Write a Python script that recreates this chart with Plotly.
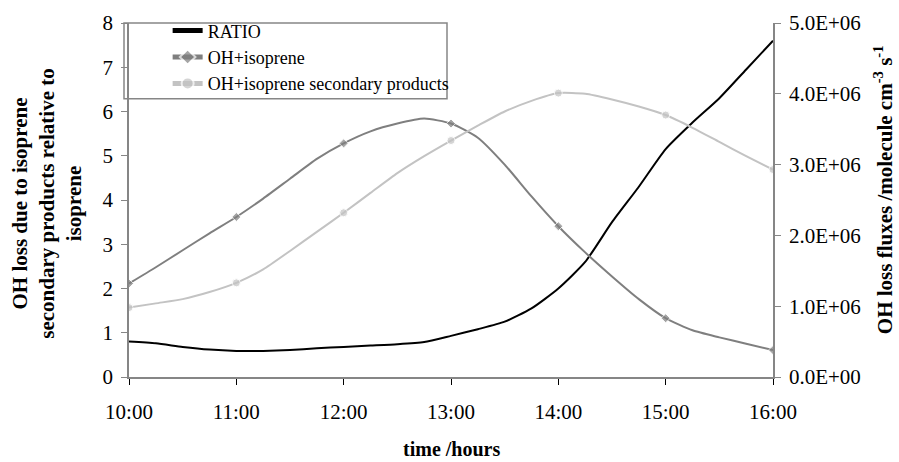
import plotly.graph_objects as go

# ---- data ----
times = ["10:00", "10:15", "10:30", "10:45", "11:00", "11:15", "11:30", "11:45",
         "12:00", "12:15", "12:30", "12:45", "13:00", "13:15", "13:30", "13:45",
         "14:00", "14:15", "14:30", "14:45", "15:00", "15:15", "15:30", "15:45", "16:00"]

ratio = [0.80, 0.76, 0.68, 0.62, 0.59, 0.59, 0.61, 0.65, 0.68, 0.71, 0.74, 0.79,
         0.93, 1.08, 1.25, 1.55, 2.00, 2.60, 3.50, 4.30, 5.15, 5.75, 6.30, 6.95, 7.60]

oh_isoprene = [1.32e6, 1.55e6, 1.79e6, 2.03e6, 2.26e6, 2.52e6, 2.80e6, 3.08e6,
               3.30e6, 3.47e6, 3.58e6, 3.65e6, 3.58e6, 3.38e6, 3.00e6, 2.55e6,
               2.13e6, 1.76e6, 1.42e6, 1.10e6, 0.83e6, 0.66e6, 0.56e6, 0.47e6, 0.38e6]

oh_secondary = [0.98e6, 1.04e6, 1.10e6, 1.20e6, 1.33e6, 1.52e6, 1.78e6, 2.05e6,
                2.32e6, 2.60e6, 2.88e6, 3.12e6, 3.34e6, 3.55e6, 3.75e6, 3.90e6,
                4.01e6, 4.00e6, 3.92e6, 3.82e6, 3.70e6, 3.52e6, 3.32e6, 3.12e6, 2.93e6]

x_tick_labels = ["10:00", "11:00", "12:00", "13:00", "14:00", "15:00", "16:00"]
left_ticks = [0, 1, 2, 3, 4, 5, 6, 7, 8]
right_ticks = [0, 1e6, 2e6, 3e6, 4e6, 5e6]
right_tick_labels = ["0.0E+00", "1.0E+06", "2.0E+06", "3.0E+06", "4.0E+06", "5.0E+06"]


def to_hours(t):
    h, m = t.split(":")
    return int(h) + int(m) / 60.0


xh = [to_hours(t) for t in times]
x_tick_vals = [to_hours(t) for t in x_tick_labels]
is_hour = [t.endswith(":00") for t in times]

FONT = "Liberation Serif"
AXC = "#868686"

fig = go.Figure()
fig.add_trace(go.Scatter(
    x=xh, y=ratio, name="RATIO", mode="lines",
    line=dict(color="#000000", width=2, shape="spline", smoothing=0.6),
    yaxis="y"))
fig.add_trace(go.Scatter(
    x=xh, y=oh_isoprene, name="OH+isoprene", mode="lines+markers",
    line=dict(color="#7f7f7f", width=2, shape="spline", smoothing=0.6),
    marker=dict(symbol="diamond", color="#7f7f7f",
                size=[7 if h else 0 for h in is_hour]),
    yaxis="y2"))
fig.add_trace(go.Scatter(
    x=xh, y=oh_secondary, name="OH+isoprene secondary products", mode="lines+markers",
    line=dict(color="#c3c3c3", width=2, shape="spline", smoothing=0.6),
    marker=dict(symbol="circle", color="#c3c3c3",
                size=[8 if h else 0 for h in is_hour]),
    yaxis="y2"))

tickfont = dict(family=FONT, size=21, color="#000000")

fig.update_layout(
    width=899, height=462,
    margin=dict(l=129, r=126, t=17, b=85),
    paper_bgcolor="white", plot_bgcolor="white",
    font=dict(family=FONT, color="#000000"),
    showlegend=True,
    legend=dict(x=0.06, y=1.03, xanchor="left", yanchor="top",
                bgcolor="rgba(0,0,0,0)", borderwidth=0,
                font=dict(family=FONT, size=18, color="#000000"),
                tracegroupgap=0, itemsizing="constant"),
    xaxis=dict(range=[10, 16], tickvals=x_tick_vals, ticktext=x_tick_labels,
               showgrid=False, zeroline=False, showline=True, linecolor=AXC,
               linewidth=1.5, ticks="outside", ticklen=6, tickcolor="#000000",
               tickfont=tickfont, ticklabelstandoff=9),
    xaxis2=dict(range=[10, 16], tickvals=x_tick_vals, overlaying="x",
                anchor="y", side="bottom", showgrid=False, zeroline=False,
                showline=False, ticks="inside", ticklen=8, tickcolor="#000000",
                showticklabels=False),
    yaxis=dict(range=[0, 8], tickvals=left_ticks, showgrid=False,
               zeroline=False, showline=True, linecolor=AXC, linewidth=1.5,
               ticks="outside", ticklen=6, tickcolor=AXC, tickfont=tickfont,
               ticklabelstandoff=4),
    yaxis3=dict(range=[0, 8], tickvals=left_ticks, overlaying="y", anchor="x",
                side="left", showgrid=False, zeroline=False, showline=False,
                ticks="inside", ticklen=6, tickcolor=AXC, showticklabels=False),
    yaxis2=dict(range=[0, 5e6], tickvals=right_ticks, ticktext=right_tick_labels,
                overlaying="y", side="right", anchor="x", showgrid=False,
                zeroline=False, showline=True, linecolor=AXC, linewidth=1.5,
                ticks="outside", ticklen=6, tickcolor=AXC, tickfont=tickfont,
                ticklabelstandoff=4),
    yaxis4=dict(range=[0, 5e6], tickvals=right_ticks, overlaying="y",
                side="right", anchor="x", showgrid=False, zeroline=False,
                showline=False, ticks="inside", ticklen=6, tickcolor=AXC,
                showticklabels=False),
)

# legend frame
fig.add_shape(type="rect", xref="paper", yref="paper",
              x0=(124 - 129) / 644, x1=(447 - 129) / 644,
              y0=(377 - 94) / 360, y1=(377 - 17) / 360,
              line=dict(color=AXC, width=1.5), fillcolor="white", layer="below")

fig.add_annotation(text="<b>OH loss due to isoprene<br>secondary products relative to<br>isoprene</b>",
                   xref="paper", yref="paper", x=-0.127, y=0.49,
                   xanchor="center", yanchor="middle", textangle=-90, showarrow=False,
                   font=dict(family=FONT, size=21, color="#000000"))
fig.add_annotation(text="<b>OH loss fluxes /molecule cm<sup>-3</sup> s<sup>-1</sup></b>",
                   xref="paper", yref="paper", x=1.172, y=0.53,
                   xanchor="center", yanchor="middle", textangle=-90, showarrow=False,
                   font=dict(family=FONT, size=21, color="#000000"))
fig.add_annotation(text="<b>time /hours</b>",
                   xref="paper", yref="paper", x=0.5, y=-0.203,
                   xanchor="center", yanchor="middle", showarrow=False,
                   font=dict(family=FONT, size=20, color="#000000"))

fig.write_html("out.html")
